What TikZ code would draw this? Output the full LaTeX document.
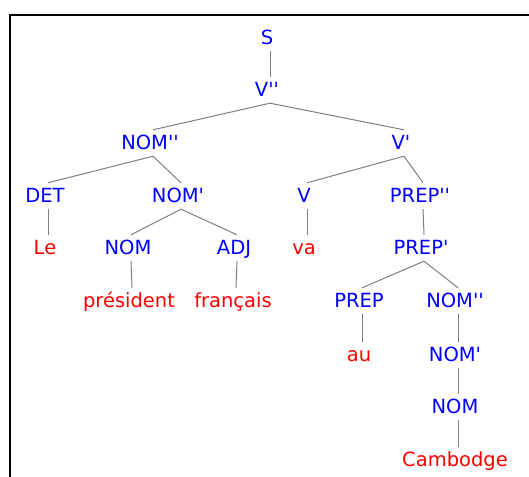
\documentclass[tikz,border=0pt]{standalone}
\usepackage{fontspec}
\setmainfont{DejaVu Sans}[Ligatures=TeXOff]
\definecolor{catblue}{RGB}{0,0,255}
\definecolor{wordred}{RGB}{255,0,0}
\definecolor{edgegray}{RGB}{128,128,128}
\newcommand\branch[2]{\draw[edge] ([xshift=3pt]#1.south) -- ([xshift=3pt]#2.north);}
\begin{document}
\begin{tikzpicture}[x=1pt,y=-1pt,
  lab/.style={inner xsep=0pt, inner ysep=6.2pt, text height=13.6pt, text depth=0pt,
    font=\fontsize{19.5}{22}\selectfont},
  cat/.style={lab, text=catblue},
  word/.style={lab, text=wordred},
  edge/.style={draw=edgegray, line width=1pt}]
\useasboundingbox (0,0) rectangle (529,476);
\draw[line width=2pt] (10,480) -- (10,15) -- (535,15);
% row 1
\node[cat] (S) at (267,38) {S};
\node[cat] (Vbar2) at (267,90) {V''};
\node[cat] (NOMbar2a) at (150,143) {NOM''};
\node[cat] (Vbar1) at (401,143) {V'};
\node[cat] (DET) at (45,196) {DET};
\node[cat] (NOMbar1a) at (178,196) {NOM'};
\node[cat] (V) at (304,196) {V};
\node[cat] (PREPbar2) at (420,196) {PREP''};
\node[word] (Le) at (45,248) {Le};
\node[cat] (NOMa) at (128,248) {NOM};
\node[cat] (ADJ) at (234,248) {ADJ};
\node[word] (va) at (304,248) {va};
\node[cat] (PREPbar1) at (421,248) {PREP'};
\node[word] (president) at (129,301) {président};
\node[word] (francais) at (233,301) {français};
\node[cat] (PREP) at (359,301) {PREP};
\node[cat] (NOMbar2b) at (455,301) {NOM''};
\node[word] (au) at (359,355) {au};
\node[cat] (NOMbar1b) at (455,355) {NOM'};
\node[cat] (NOMb) at (455,407) {NOM};
\node[word] (Cambodge) at (455,460) {Cambodge};
% edges
\branch{S}{Vbar2}
\branch{Vbar2}{NOMbar2a}
\branch{Vbar2}{Vbar1}
\branch{NOMbar2a}{DET}
\branch{NOMbar2a}{NOMbar1a}
\branch{Vbar1}{V}
\branch{Vbar1}{PREPbar2}
\branch{DET}{Le}
\branch{NOMbar1a}{NOMa}
\branch{NOMbar1a}{ADJ}
\branch{V}{va}
\branch{PREPbar2}{PREPbar1}
\branch{NOMa}{president}
\branch{ADJ}{francais}
\branch{PREPbar1}{PREP}
\branch{PREPbar1}{NOMbar2b}
\branch{PREP}{au}
\branch{NOMbar2b}{NOMbar1b}
\branch{NOMbar1b}{NOMb}
\branch{NOMb}{Cambodge}
\end{tikzpicture}
\end{document}
